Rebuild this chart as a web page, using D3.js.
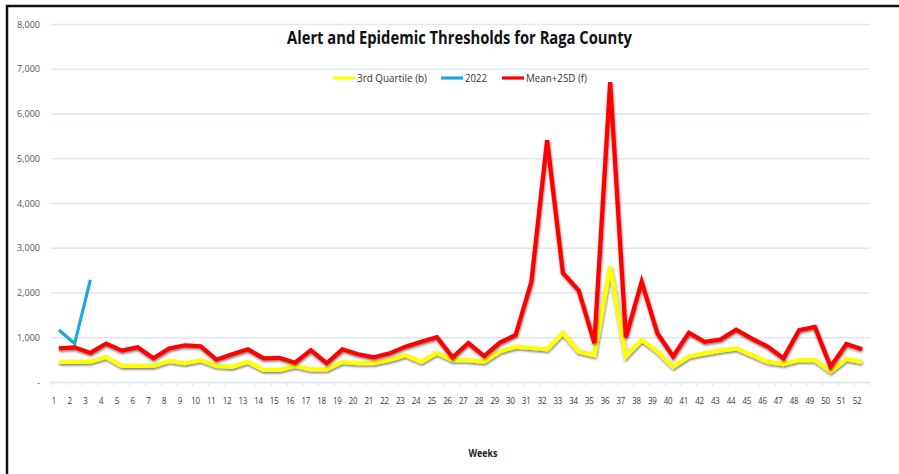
<!DOCTYPE html>
<html><head><meta charset="utf-8">
<script src="https://cdn.jsdelivr.net/npm/d3@7"></script>
<style>body{margin:0;background:#fff}svg{display:block}text{font-family:"Liberation Sans Narrow","Open Sans",sans-serif}</style>
</head><body>
<svg id="c" width="899" height="474"></svg>
<script>
const weeks = d3.range(1, 53).map(String);
const thirdQuartile = [450,450,455,560,360,360,360,470,420,490,360,340,450,270,270,360,280,280,450,420,420,490,600,450,650,490,490,450,680,790,760,730,1090,680,600,2580,570,940,680,340,570,640,700,750,600,450,400,490,490,230,510,450];
const y2022 = [1160,860,2280];
const meanPlus2SD = [750,775,650,860,700,775,530,750,820,800,500,620,730,530,540,430,710,420,730,620,550,640,790,900,1000,550,870,580,880,1050,2240,5400,2440,2050,870,6700,1000,2240,1090,570,1100,900,950,1170,970,790,530,1160,1230,340,850,730];
const yTicks = [0,1000,2000,3000,4000,5000,6000,7000,8000];
const seriesNames = ["3rd Quartile (b)","2022","Mean+2SD (f)"];
const colors = ["#ffff00","#1ca7e0","#ff0000"];
const title = "Alert and Epidemic Thresholds for Raga County";
const xTitle = "Weeks";

const svg = d3.select("#c");
const m = {l:51, r:870, t:24, b:382};
const x = d3.scaleBand().domain(weeks).range([m.l, m.r]);
const y = d3.scaleLinear().domain([0, 8000]).range([m.b, m.t]);
const cx = w => x(w) + x.bandwidth()/2;

const defs = svg.append("defs");
const f = defs.append("filter").attr("id","sh").attr("x","-5%").attr("y","-5%").attr("width","110%").attr("height","120%");
f.append("feDropShadow").attr("dx",0.5).attr("dy",1.5).attr("stdDeviation",1).attr("flood-color","#000").attr("flood-opacity",0.55);

// frame
svg.append("rect").attr("x",7).attr("y",6).attr("width",920).attr("height",500)
  .attr("fill","none").attr("stroke","#111").attr("stroke-width",2.5);

// gridlines
const yAxis = d3.axisLeft(y).tickValues(yTicks).tickSize(-(m.r-m.l)).tickPadding(11)
  .tickFormat(d => d === 0 ? "-" : d3.format(",")(d));
const gy = svg.append("g").attr("transform",`translate(${m.l},0)`).call(yAxis);
gy.select(".domain").remove();
gy.selectAll(".tick line").attr("stroke","#dde8f5").attr("stroke-width",1.5);
gy.selectAll(".tick text").attr("fill","#555").attr("font-size",9.5)
  .each(function(d){ if(d!==0) d3.select(this).attr("textLength",23).attr("lengthAdjust","spacingAndGlyphs"); });

// x axis
const xAxis = d3.axisBottom(x).tickSize(0).tickPadding(0);
const gx = svg.append("g").attr("transform",`translate(0,${m.b})`).call(xAxis);
gx.select(".domain").attr("stroke","#dde8f5").attr("stroke-width",1.5);
gx.selectAll(".tick text").attr("fill","#333").attr("font-size",9.5).attr("dy",22).attr("dx",-5)
  .attr("textLength",d=>d.length>1?9:4.5).attr("lengthAdjust","spacingAndGlyphs");
// boundary ticks (between categories)
gx.selectAll(".btick").data(weeks.concat(["end"])).enter().append("line")
  .attr("x1",(d,i)=> m.l + i*x.step()).attr("x2",(d,i)=> m.l + i*x.step())
  .attr("y1",0).attr("y2",4).attr("stroke","#dde8f5").attr("stroke-width",1.2);

// lines
const line = d3.line().x((d,i)=>cx(weeks[i])).y(d=>y(d));
const data = [thirdQuartile, y2022, meanPlus2SD];
[0,1,2].forEach(k=>{
  svg.append("path").datum(data[k]).attr("d",line).attr("fill","none")
    .attr("stroke",colors[k]).attr("stroke-width",k===1?3.2:4.2)
    .attr("stroke-linejoin","miter").attr("filter", k===1?null:"url(#sh)");
});

// title
svg.append("text").attr("x",459.5).attr("y",44).attr("text-anchor","middle")
  .attr("font-weight","bold").attr("font-size",17).attr("fill","#111")
  .attr("textLength",345).attr("lengthAdjust","spacingAndGlyphs").text(title);

// legend
const legX = [333, 441, 502];
const legW = [70, 22, 61];
const lg = svg.append("g");
seriesNames.forEach((n,i)=>{
  lg.append("line").attr("x1",legX[i]).attr("x2",legX[i]+22).attr("y1",78).attr("y2",78)
    .attr("stroke",colors[i]).attr("stroke-width",3.2);
  lg.append("text").attr("x",legX[i]+24).attr("y",81.5).attr("font-size",10.5).attr("fill","#333")
    .attr("textLength",legW[i]).attr("lengthAdjust","spacingAndGlyphs").text(n);
});

// x title
svg.append("text").attr("x",483).attr("y",457).attr("text-anchor","middle")
  .attr("font-weight","bold").attr("font-size",10).attr("fill","#222")
  .attr("textLength",29).attr("lengthAdjust","spacingAndGlyphs").text(xTitle);
</script>
</body></html>
